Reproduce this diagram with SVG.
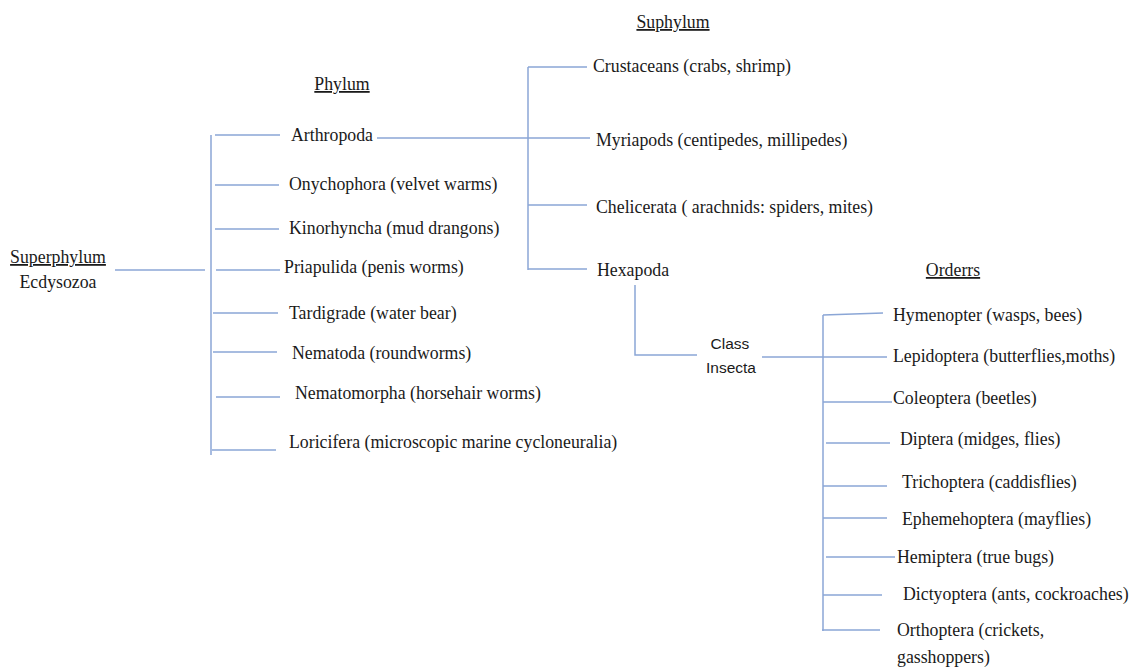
<svg xmlns="http://www.w3.org/2000/svg" width="1133" height="671" viewBox="0 0 1133 671">
<style>
.t{font-family:'Liberation Serif',serif;font-size:17.8px;fill:#1a1a1a}
.h{text-decoration:underline}
.s{font-family:'Liberation Sans',sans-serif;font-size:15.5px;fill:#1a1a1a;text-anchor:middle}
.c{stroke:#8ba6d6;stroke-width:1.5;fill:none}
</style>
<rect width="1133" height="671" fill="#fff"/>
<g id="connectors" class="c">
<path d="M115 270H205"/>
<path d="M211 135V455"/>
<path d="M215 135H280M215 185H279M215 229H279M216 270H280M213 313H278M213 352H277M216 397H280M212 450H276"/>
<path d="M377 138H590"/>
<path d="M528 67V270"/>
<path d="M528 67H587M528 205H587M528 269H587"/>
<path d="M635 285V355H697"/>
<path d="M762 357H887"/>
<path d="M823 315V631"/>
<path d="M823 315L883 313M823 402H892M826 443H890M823 486H887M823 518H887M826 557H895M823 595H882M822 630H880"/>
</g>
<g id="headers" font-family="Liberation Serif, serif">
<text class="t h" x="673" y="28" text-anchor="middle">Suphylum</text>
<text class="t h" x="342" y="90" text-anchor="middle">Phylum</text>
<text class="t h" x="953" y="276" text-anchor="middle">Orderrs</text>
</g>
<g id="superphylum" font-family="Liberation Serif, serif">
<text class="t h" x="58" y="263" text-anchor="middle">Superphylum</text>
<text class="t" x="58" y="288" text-anchor="middle">Ecdysozoa</text>
</g>
<g id="phyla" font-family="Liberation Serif, serif">
<text class="t" x="291" y="141">Arthropoda</text>
<text class="t" x="289" y="190">Onychophora (velvet warms)</text>
<text class="t" x="289" y="234">Kinorhyncha (mud drangons)</text>
<text class="t" x="284" y="273">Priapulida (penis worms)</text>
<text class="t" x="289" y="319">Tardigrade (water bear)</text>
<text class="t" x="292" y="359">Nematoda (roundworms)</text>
<text class="t" x="295" y="399">Nematomorpha (horsehair worms)</text>
<text class="t" x="289" y="448">Loricifera (microscopic marine cycloneuralia)</text>
</g>
<g id="subphyla" font-family="Liberation Serif, serif">
<text class="t" x="593" y="72">Crustaceans (crabs, shrimp)</text>
<text class="t" x="596" y="146">Myriapods (centipedes, millipedes)</text>
<text class="t" x="596" y="213">Chelicerata ( arachnids: spiders, mites)</text>
<text class="t" x="597" y="276">Hexapoda</text>
</g>
<g id="class">
<text class="s" x="730" y="349">Class</text>
<text class="s" x="731" y="373">Insecta</text>
</g>
<g id="orders" font-family="Liberation Serif, serif">
<text class="t" x="893" y="321">Hymenopter (wasps, bees)</text>
<text class="t" x="893" y="362">Lepidoptera (butterflies,moths)</text>
<text class="t" x="893" y="404">Coleoptera (beetles)</text>
<text class="t" x="900" y="445">Diptera (midges, flies)</text>
<text class="t" x="902" y="488">Trichoptera (caddisflies)</text>
<text class="t" x="902" y="525">Ephemehoptera (mayflies)</text>
<text class="t" x="897" y="563">Hemiptera (true bugs)</text>
<text class="t" x="903" y="600">Dictyoptera (ants, cockroaches)</text>
<text class="t" x="897" y="636">Orthoptera (crickets,</text>
<text class="t" x="897" y="663">gasshoppers)</text>
</g>
</svg>
